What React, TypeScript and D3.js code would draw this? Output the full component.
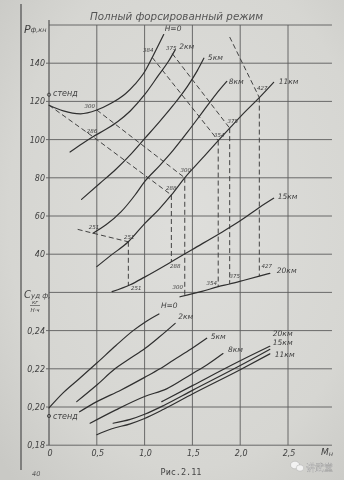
import React from 'react';
import * as d3 from 'd3';

// ---------- text ----------
const TITLE = 'Полный форсированный режим';
const CAPTION = 'Рис.2.11';
const PAGE_NO = '40';

// ---------- axes ----------
const M_TICKS = [0, 0.5, 1, 1.5, 2, 2.5];
const M_TICK_LABELS = ['0', '0,5', '1,0', '1,5', '2,0', '2,5'];
const P_GRID = [160, 140, 120, 100, 80, 60, 40, 20];
const P_TICKS = [140, 120, 100, 80, 60, 40];
const C_GRID = [0.24, 0.22, 0.2, 0.18];
const C_TICK_LABELS = ['0,24', '0,22', '0,20', '0,18'];

// ---------- thrust P (kN) vs M ----------
const P_H0_M = [0, 0.15, 0.33, 0.5, 0.65, 0.8, 0.9, 1.0, 1.08, 1.2];
const P_H0 = [118, 115, 113.5, 115.5, 119, 124, 129, 135.5, 143, 155];
const P_H2_M = [0.22, 0.35, 0.46, 0.6, 0.72, 0.85, 1.0, 1.15, 1.25, 1.32];
const P_H2 = [93.5, 98, 101.5, 105.5, 109.5, 115, 123.5, 134, 141, 147];
const P_H5_M = [0.34, 0.53, 0.7, 0.85, 1.0, 1.15, 1.3, 1.45, 1.55, 1.62];
const P_H5 = [68.7, 77, 84.5, 92, 100.5, 109, 118, 128, 136, 142.6];
const P_H8_M = [0.46, 0.6, 0.75, 0.9, 1.0, 1.15, 1.3, 1.45, 1.6, 1.75, 1.86];
const P_H8 = [51, 55.5, 62, 71, 78, 86, 94.5, 104, 114, 124, 130.5];
const P_H11_M = [0.5, 0.65, 0.83, 1.0, 1.15, 1.28, 1.42, 1.6, 1.77, 1.89, 2.05, 2.2, 2.35];
const P_H11 = [33.5, 39.5, 46.5, 56, 63.5, 71, 80, 90, 99.5, 106, 114.5, 122, 130];
const P_H15_M = [0.66, 0.85, 1.0, 1.28, 1.5, 1.79, 2.0, 2.2, 2.35];
const P_H15 = [20.4, 24, 28, 36, 42.5, 51, 57.5, 64.5, 69.3];
const P_H20_M = [1.37, 1.6, 1.77, 1.89, 2.05, 2.2, 2.31];
const P_H20 = [17.7, 20.5, 23, 24.4, 26.5, 28.5, 30];
const P_STAND = 123.5;

// ---------- specific consumption C vs M ----------
const C_H0_M = [0, 0.15, 0.31, 0.5, 0.7, 0.88, 1.0, 1.15];
const C_H0 = [0.1995, 0.2075, 0.2145, 0.223, 0.2322, 0.24, 0.2443, 0.2487];
const C_H2_M = [0.29, 0.5, 0.69, 0.85, 1.0, 1.15, 1.32];
const C_H2 = [0.2028, 0.2115, 0.22, 0.2255, 0.2305, 0.2365, 0.2438];
const C_H5_M = [0.32, 0.5, 0.75, 1.0, 1.16, 1.3, 1.49, 1.65];
const C_H5 = [0.1975, 0.2028, 0.2088, 0.2155, 0.22, 0.2245, 0.2305, 0.236];
const C_H8_M = [0.43, 0.7, 1.0, 1.23, 1.49, 1.65, 1.82];
const C_H8 = [0.1915, 0.1985, 0.2055, 0.2095, 0.2172, 0.222, 0.228];
const C_H11_M = [0.5, 0.65, 0.85, 1.0, 1.2, 1.5, 2.0, 2.31];
const C_H11 = [0.1855, 0.1885, 0.1912, 0.194, 0.1988, 0.2068, 0.2195, 0.2278];
const C_H15_M = [0.67, 0.85, 1.0, 1.2, 1.5, 2.0, 2.31];
const C_H15 = [0.1915, 0.1935, 0.1962, 0.2008, 0.2087, 0.2217, 0.2302];
const C_H20_M = [1.18, 1.5, 2.0, 2.31];
const C_H20 = [0.2028, 0.2112, 0.2242, 0.2318];
const C_STAND = 0.1953;

// ---------- marked speed points ----------
const PT_LABELS = ['300', '286', '384', '375', '251', '251', '288', '300', '354', '375', '427', '251', '288', '300', '354', '375', '427'];
const PT_M = [0.5, 0.46, 1.08, 1.29, 0.46, 0.83, 1.28, 1.42, 1.77, 1.89, 2.2, 0.83, 1.28, 1.42, 1.77, 1.89, 2.2];
const PT_P = [115.5, 101.5, 143, 145, 51, 46.5, 71, 80, 99.5, 106, 122, 23.6, 36, 18.3, 23, 24.4, 28.5];

// dashed connection lines (indices into points; negative = free start point)
const DASH_LINES: number[][] = [[-1, 1, 6], [0, 7], [2, 8], [3, 9], [-2, 10], [-3, 4, 5]];
const DASH_START_M = [0, 1.89, 0.3];
const DASH_START_P = [118, 153.7, 53];
// vertical drops: [upper point, lower point]
const DROPS = [[5, 11], [6, 12], [7, 13], [8, 14], [9, 15], [10, 16]];

// ---------- styles ----------
const W = 344, H = 480;
const x = d3.scaleLinear().domain([0, 2.5]).range([49, 288]);
const yP = d3.scaleLinear().domain([20, 160]).range([292.4, 25]);
const yC = d3.scaleLinear().domain([0.18, 0.26]).range([445.2, 292.4]);
const X_END = 2.96;

const INK = '#2f2f2f';
const GRID = '#5c5c5c';
const TXT = '#3f3f3f';
const FONT = '"DejaVu Sans", "Liberation Sans", sans-serif';

const PT_OFF: [number, number][] = [
  [-7, -4], [-1, -6], [-4, -7], [-1, -6], [1, -6], [1, -5], [0, -6.5], [1, -7.5], [1, -5.5],
  [3, -7], [3, -9.5], [8, 2], [4, 4], [-7, -9], [-6.5, -3.5], [5, -7.5], [7.5, -10],
];

const mkLine = (ms: number[], vs: number[], ys: d3.ScaleLinear<number, number>) =>
  d3.line<[number, number]>()
    .x(d => x(d[0]))
    .y(d => ys(d[1]))
    .curve(d3.curveMonotoneX)(d3.zip(ms, vs) as [number, number][]) || '';

type Series = { name: string; m: number[]; v: number[]; off: [number, number] };

const TOP: Series[] = [
  { name: 'H=0', m: P_H0_M, v: P_H0, off: [1, -4] },
  { name: '2км', m: P_H2_M, v: P_H2, off: [4, -1] },
  { name: '5км', m: P_H5_M, v: P_H5, off: [4, 2] },
  { name: '8км', m: P_H8_M, v: P_H8, off: [2, 3] },
  { name: '11км', m: P_H11_M, v: P_H11, off: [5, 2] },
  { name: '15км', m: P_H15_M, v: P_H15, off: [4, 1] },
  { name: '20км', m: P_H20_M, v: P_H20, off: [7, 0] },
];
const BOTTOM: Series[] = [
  { name: 'H=0', m: C_H0_M, v: C_H0, off: [2, -6] },
  { name: '2км', m: C_H2_M, v: C_H2, off: [3, -4] },
  { name: '5км', m: C_H5_M, v: C_H5, off: [4, 1] },
  { name: '8км', m: C_H8_M, v: C_H8, off: [5, -2] },
  { name: '11км', m: C_H11_M, v: C_H11, off: [5, 3] },
  { name: '15км', m: C_H15_M, v: C_H15, off: [3, -4] },
  { name: '20км', m: C_H20_M, v: C_H20, off: [3, -10] },
];

function ptXY(i: number): [number, number] {
  return [x(PT_M[i]), yP(PT_P[i])];
}
function startXY(i: number): [number, number] {
  const k = -i - 1;
  return [x(DASH_START_M[k]), yP(DASH_START_P[k])];
}

export default function App() {
  const last = (a: number[]) => a[a.length - 1];
  return (
    <svg width={W} height={H} viewBox={`0 0 ${W} ${H}`}
      style={{ position: 'fixed', left: 0, top: 0, display: 'block' }}>
      <defs>
        <radialGradient id="paper" cx="55%" cy="45%" r="75%">
          <stop offset="0%" stopColor="#dededb" />
          <stop offset="70%" stopColor="#d6d6d2" />
          <stop offset="100%" stopColor="#c9c9c5" />
        </radialGradient>
      </defs>
      <rect x={0} y={0} width={W} height={H} fill="url(#paper)" />

      {/* book gutter line */}
      <line x1={21} x2={21} y1={4} y2={470} stroke="#555" strokeWidth={1.6} opacity={0.8} />

      {/* title */}
      <text x={176.5} y={20} textAnchor="middle" fontFamily={FONT} fontStyle="italic" fontSize={11}
        fill="#555" textLength={173} lengthAdjust="spacingAndGlyphs">{TITLE}</text>

      {/* grid */}
      <g stroke={GRID} strokeWidth={0.9} fill="none">
        {P_GRID.map(p => <line key={'p' + p} x1={x(0)} x2={x(X_END)} y1={yP(p)} y2={yP(p)} />)}
        {C_GRID.map(c => <line key={'c' + c} x1={x(0)} x2={x(X_END)} y1={yC(c)} y2={yC(c)} />)}
        {M_TICKS.map(m => <line key={'m' + m} x1={x(m)} x2={x(m)} y1={yP(160) - (m === 0 ? 5 : 0)} y2={yC(0.18)} strokeWidth={m === 0 ? 1.3 : 0.9} />)}
        {P_TICKS.map(p => <line key={'tp' + p} x1={x(0) - 3} x2={x(0)} y1={yP(p)} y2={yP(p)} />)}
        {C_GRID.map(c => <line key={'tc' + c} x1={x(0) - 3} x2={x(0)} y1={yC(c)} y2={yC(c)} />)}
      </g>

      {/* tick labels */}
      <g fontFamily={FONT} fontStyle="italic" fontSize={8} fill={TXT}>
        {P_TICKS.map(p => <text key={p} x={45} y={yP(p) + 3} textAnchor="end">{p}</text>)}
        {C_GRID.map((c, i) => <text key={c} x={45} y={yC(c) + 3} textAnchor="end">{C_TICK_LABELS[i]}</text>)}
        {M_TICKS.map((m, i) => <text key={m} x={x(m) + 1} y={456} textAnchor="middle">{M_TICK_LABELS[i]}</text>)}
        <text x={321} y={455} fontSize={9}>M<tspan fontSize={6.5} dy={1}>н</tspan></text>
      </g>

      {/* axis titles */}
      <g fontFamily={FONT} fontStyle="italic" fill={TXT}>
        <text x={24} y={33} fontSize={11}>P<tspan fontSize={6.5} dy={-1}>ф,кн</tspan></text>
        <text x={24} y={298} fontSize={10}>C<tspan fontSize={7} dy={0}>уд ф,</tspan></text>
        <text x={35} y={303.5} fontSize={5.5} textAnchor="middle">кг</text>
        <line x1={30} x2={40} y1={305.5} y2={305.5} stroke={TXT} strokeWidth={0.6} />
        <text x={35} y={312} fontSize={5.5} textAnchor="middle">Н·ч</text>
      </g>

      {/* dashed lines */}
      <g stroke="#3a3a3a" strokeWidth={0.95} strokeDasharray="5,3" fill="none">
        {DASH_LINES.map((idx, k) => {
          const pts = idx.map(i => (i < 0 ? startXY(i) : ptXY(i)));
          return <polyline key={'d' + k} points={pts.map(p => p.join(',')).join(' ')} />;
        })}
        {DROPS.map(([a, b], k) => {
          const [x1, y1] = ptXY(a);
          const [, y2] = ptXY(b);
          return <line key={'v' + k} x1={x1} x2={x1} y1={y1} y2={y2} />;
        })}
      </g>

      {/* curves */}
      <g stroke={INK} strokeWidth={1.2} fill="none" strokeLinecap="round">
        {TOP.map(s => <path key={'t' + s.name} d={mkLine(s.m, s.v, yP)} />)}
        {BOTTOM.map(s => <path key={'b' + s.name} d={mkLine(s.m, s.v, yC)} />)}
      </g>

      {/* curve labels */}
      <g fontFamily={FONT} fontStyle="italic" fontSize={7.5} fill={TXT}>
        {TOP.map(s => (
          <text key={'tl' + s.name} x={x(last(s.m)) + s.off[0]} y={yP(last(s.v)) + s.off[1]}>{s.name}</text>
        ))}
        {BOTTOM.map(s => (
          <text key={'bl' + s.name} x={x(last(s.m)) + s.off[0]} y={yC(last(s.v)) + s.off[1]}>{s.name}</text>
        ))}
      </g>

      {/* speed labels */}
      <g fontFamily={FONT} fontStyle="italic" fontSize={5.5} fill={TXT} textAnchor="middle">
        {PT_LABELS.map((t, i) => {
          const [px, py] = ptXY(i);
          return <text key={'pl' + i} x={px + PT_OFF[i][0]} y={py + PT_OFF[i][1] + 2}>{t}</text>;
        })}
      </g>

      {/* stand points */}
      <g fontFamily={FONT} fontStyle="italic" fontSize={8} fill={TXT}>
        <circle cx={x(0)} cy={yP(P_STAND)} r={1.6} fill="none" stroke={INK} strokeWidth={0.8} />
        <text x={x(0) + 4} y={yP(P_STAND) + 1}>стенд</text>
        <circle cx={x(0)} cy={yC(C_STAND)} r={1.6} fill="none" stroke={INK} strokeWidth={0.8} />
        <text x={x(0) + 4} y={yC(C_STAND) + 3}>стенд</text>
      </g>

      {/* page footer */}
      <text x={181} y={475} textAnchor="middle" fontFamily='"DejaVu Sans Mono", monospace' fontSize={8.5} fill="#444">{CAPTION}</text>
      <text x={32} y={476} fontFamily={FONT} fontStyle="italic" fontSize={6.5} fill="#555">{PAGE_NO}</text>

      {/* watermark */}
      <g opacity={0.95}>
        <ellipse cx={295} cy={465} rx={4.5} ry={3.8} fill="#f4f4f4" stroke="#999" strokeWidth={0.4} />
        <ellipse cx={300} cy={468} rx={3.8} ry={3.2} fill="#f4f4f4" stroke="#999" strokeWidth={0.4} />
        <text x={306} y={471} fontFamily='"Noto Sans CJK SC", sans-serif' fontSize={9} fill="#f6f6f6"
          stroke="#8a8a8a" strokeWidth={0.3}>讲武堂</text>
      </g>
    </svg>
  );
}
